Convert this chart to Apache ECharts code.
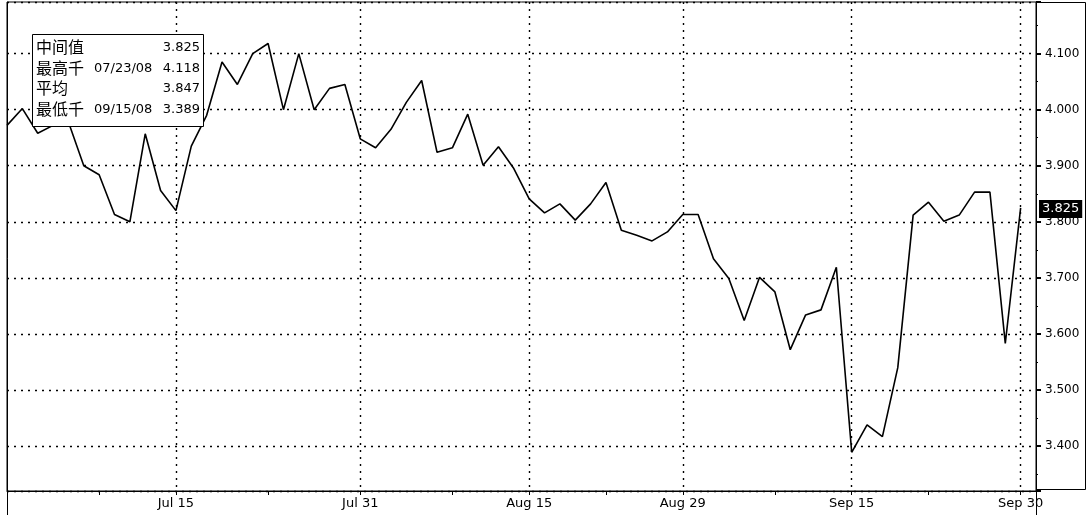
<!DOCTYPE html>
<html><head><meta charset="utf-8">
<script src="https://cdn.jsdelivr.net/npm/echarts@6/dist/echarts.min.js"></script>
<style>html,body{margin:0;padding:0;background:#fff}#c{width:1091px;height:515px}</style>
</head><body><div id="c"></div>
<script>
// Weekday categories (last one is the empty slot at the right edge)
const categories = [
 '06/30/08',
 '07/01/08','07/02/08','07/03/08','07/04/08',
 '07/07/08','07/08/08','07/09/08','07/10/08','07/11/08',
 '07/14/08','07/15/08','07/16/08','07/17/08','07/18/08',
 '07/21/08','07/22/08','07/23/08','07/24/08','07/25/08',
 '07/28/08','07/29/08','07/30/08','07/31/08',
 '08/01/08',
 '08/04/08','08/05/08','08/06/08','08/07/08','08/08/08',
 '08/11/08','08/12/08','08/13/08','08/14/08','08/15/08',
 '08/18/08','08/19/08','08/20/08','08/21/08','08/22/08',
 '08/25/08','08/26/08','08/27/08','08/28/08','08/29/08',
 '09/01/08','09/02/08','09/03/08','09/04/08','09/05/08',
 '09/08/08','09/09/08','09/10/08','09/11/08','09/12/08',
 '09/15/08','09/16/08','09/17/08','09/18/08','09/19/08',
 '09/22/08','09/23/08','09/24/08','09/25/08','09/26/08',
 '09/29/08','09/30/08','10/01/08'
];
const values = [
 3.972, 4.002, 3.958, 3.972, 3.978,
 3.900, 3.884, 3.813, 3.800, 3.957,
 3.856, 3.820, 3.935, 3.990, 4.085,
 4.045, 4.100, 4.118, 4.000, 4.100,
 4.000, 4.038, 4.045, 3.948,
 3.932,
 3.965, 4.013, 4.052, 3.924, 3.932,
 3.992, 3.901, 3.934, 3.895, 3.841,
 3.816, 3.832, 3.803, 3.832, 3.870,
 3.785, 3.776, 3.766, 3.782, 3.813,
 3.813, 3.734, 3.699, 3.624, 3.701,
 3.675, 3.572, 3.634, 3.643, 3.719,
 3.389, 3.438, 3.417, 3.540, 3.812,
 3.835, 3.801, 3.812, 3.853, 3.853,
 3.583, 3.825
];
const majorTickDates = ['07/15/08','07/31/08','08/15/08','08/29/08','09/15/08','09/30/08'];
const majorTickLabels = ['Jul 15','Jul 31','Aug 15','Aug 29','Sep 15','Sep 30'];
const minorTickDates = ['07/08/08','07/23/08','08/08/08','08/22/08','09/08/08','09/22/08'];
const statNames = ['中间值','最高千','平均','最低千'];
const statDates = ['','07/23/08','','09/15/08'];
const statValues = ['3.825','4.118','3.847','3.389'];

const NUM_FONT = 'DejaVu Sans';
const CJK_FONT = '"Noto Sans CJK SC"';
const chart = echarts.init(document.getElementById('c'), null, {renderer:'canvas'});

const rowY = [47, 68, 88, 108.5];
const legendGraphics = [
  {type:'rect', z:100, shape:{x:32.5, y:34.5, width:171, height:92}, style:{fill:'#fff', stroke:'#000', lineWidth:1}}
];
statNames.forEach((n, i) => {
  legendGraphics.push({type:'text', z:101, x:36, y:rowY[i], style:{text:n, font:'16px '+CJK_FONT, fill:'#000', textVerticalAlign:'middle', textAlign:'left'}});
  if (statDates[i]) legendGraphics.push({type:'text', z:101, x:94, y:rowY[i]+1, style:{text:statDates[i], font:'13px '+NUM_FONT, fill:'#000', textVerticalAlign:'middle', textAlign:'left'}});
  legendGraphics.push({type:'text', z:101, x:200, y:rowY[i]+1, style:{text:statValues[i], font:'13px '+NUM_FONT, fill:'#000', textVerticalAlign:'middle', textAlign:'right'}});
});

const last = values[values.length - 1];
const dotted = {type:[2,5], color:'#000', width:1.4};

chart.setOption({
  animation:false,
  backgroundColor:'#fff',
  grid:{left:7, right:55, top:2, bottom:24, show:true, borderColor:'#000', borderWidth:1, containLabel:false},
  xAxis:{
    type:'category', data:categories, boundaryGap:false,
    axisLine:{show:true, onZero:false, lineStyle:{color:'#000', width:1}},
    axisTick:{show:true, interval:(i, v) => majorTickDates.includes(v) || minorTickDates.includes(v), length:4, lineStyle:{color:'#000', width:1}},
    axisLabel:{interval:(i, v) => majorTickDates.includes(v), formatter:(v) => { const k = majorTickDates.indexOf(v); return k >= 0 ? majorTickLabels[k] : ''; }, color:'#000', fontFamily:NUM_FONT, fontSize:13, margin:6},
    splitLine:{show:true, interval:(i, v) => majorTickDates.includes(v), lineStyle:dotted}
  },
  yAxis:{
    type:'value', position:'right', min:3.32, max:4.192, splitNumber:8,
    axisLine:{show:true, lineStyle:{color:'#000', width:1}},
    axisTick:{show:true, length:5, lineStyle:{color:'#000', width:2}},
    minorTick:{show:true, splitNumber:2, length:2, lineStyle:{color:'#000', width:1}},
    axisLabel:{formatter:(v) => v.toFixed(3), showMinLabel:false, showMaxLabel:false, color:'#000', fontFamily:NUM_FONT, fontSize:12, margin:9},
    splitLine:{show:true, lineStyle:dotted}
  },
  series:[{
    type:'line', data:values, symbol:'none', showSymbol:false, clip:false,
    lineStyle:{color:'#000', width:1.6},
    markLine:{
      silent:true, symbol:['none','none'],
      lineStyle:{color:'rgba(0,0,0,0)', width:0, type:'solid'},
      emphasis:{disabled:true},
      data:[{yAxis:last}],
      label:{show:true, position:'end', distance:3, offset:[0,4], formatter:() => last.toFixed(3), backgroundColor:'#000', color:'#fff', padding:[3,3,2,3], fontFamily:NUM_FONT, fontSize:13, opacity:1}
    }
  }],
  graphic:[
    {type:'line', z:90, shape:{x1:7.5, y1:2, x2:7.5, y2:515}, style:{stroke:'#000', lineWidth:1}},
    {type:'line', z:90, shape:{x1:1036.5, y1:2, x2:1036.5, y2:515}, style:{stroke:'#000', lineWidth:1}},
    {type:'rect', z:90, shape:{x:1036.5, y:2.5, width:49, height:487}, style:{fill:'none', stroke:'#000', lineWidth:1}}
  ].concat(legendGraphics)
});
</script></body></html>
